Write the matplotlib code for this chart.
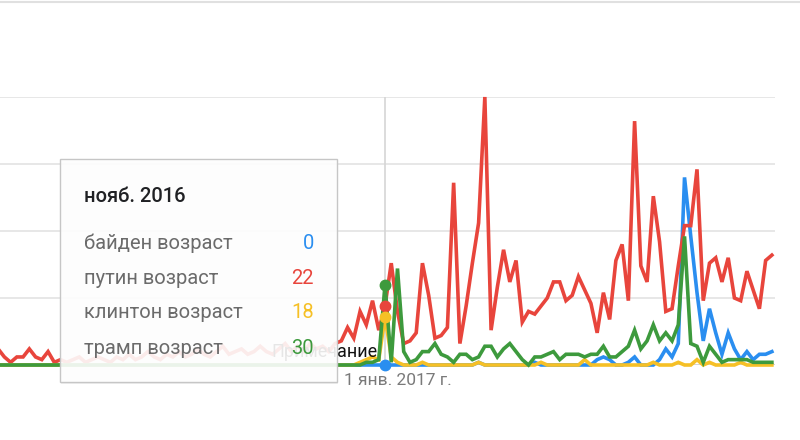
import matplotlib
matplotlib.use("Agg")
import matplotlib.pyplot as plt
from matplotlib.patches import FancyBboxPatch
from matplotlib.lines import Line2D
import numpy as np

plt.rcParams['font.family'] = ['Roboto', 'DejaVu Sans']

# months relative to nov 2016 (0 = нояб. 2016)
months = list(range(-62, 63))

# путин возраст
putin = [6, 3, 1, 3, 3, 6, 3, 2, 5, 1,
         2, 1, 2, 3, 1, 2, 3, 2, 1, 3, 2, 4, 2, 3, 5, 3, 2, 4, 3, 5, 3, 4,
         6, 4, 3, 5, 7, 4, 5, 6, 4, 5, 7, 5, 4, 6, 8, 5, 7, 5, 8, 6, 7, 5,
         8, 9, 14, 10, 20, 15, 24, 13,
         22, 38, 20, 8, 9, 12, 38, 26, 10, 11, 14, 68, 8, 22, 38, 53, 100,
         13, 29, 43, 31, 39, 16, 20, 19, 22, 25, 31, 31, 24, 26, 33, 28,
         23, 12, 27, 17, 39, 45, 24, 91, 37, 31, 63, 46, 20, 21, 37, 52,
         52, 73, 24, 38, 40, 31, 40, 25, 24, 35, 28, 21, 39, 41]

# трамп возраст
trump = [0] * 59 + [1, 1, 2] + \
        [30, 1, 36, 5, 1, 2, 5, 5, 8, 4, 3, 1, 4, 4, 2, 3, 7, 7, 3, 6,
         8, 5, 2, 0, 3, 3, 4, 5, 2, 4, 4, 4, 3, 4, 4, 7, 3, 3, 5, 7, 13,
         6, 9, 15, 9, 12, 9, 15, 48, 8, 7, 1, 7, 4, 1, 2, 2, 2, 2, 1, 1,
         1, 1]

# клинтон возраст
clinton = [0] * 58 + [1, 2, 3, 2] + \
          [18, 3, 1, 0, 0, 0, 1, 0, 0, 0, 0, 0, 0, 0, 0, 1, 0, 0, 0, 0,
           0, 0, 0, 0, 0, 1, 0, 0, 0, 0, 0, 0, 2, 0, 0, 0, 0, 0, 0, 0, 0,
           0, 0, 1, 0, 0, 0, 1, 0, 0, 2, 0, 1, 0, 0, 0, 0, 1, 0, 0, 0, 0,
           0]

# байден возраст
biden = [0] * 62 + \
        [0, 0, 0, 0, 0, 0, 0, 0, 0, 0, 0, 0, 0, 0, 0, 1, 0, 0, 0, 0,
         0, 0, 0, 0, 1, 0, 0, 0, 0, 0, 0, 0, 0, 0, 2, 3, 2, 0, 0, 1, 3,
         0, 0, 0, 2, 6, 3, 8, 70, 48, 27, 9, 21, 12, 4, 12, 6, 2, 5, 2, 4,
         4, 5]

names = ['байден возраст', 'путин возраст', 'клинтон возраст', 'трамп возраст']
colors = ['#2a8ef0', '#e8453c', '#f6c026', '#3d9a3d']
hover = 0
tick_pos = [2]
tick_labels = ['1 янв. 2017 г.']

W, H = 800, 440
fig = plt.figure(figsize=(8, 4.4), dpi=100)
ax = fig.add_axes([0, 75 / H, 775 / W, 268 / H])
ax.set_xlim(-61.7, 62.5)
ax.set_ylim(0, 100)

for y in [25, 50, 75, 100]:
    ax.axhline(y, color='#e3e3e3', lw=1.2, zorder=0)
ax.axhline(0, color='#cccccc', lw=1.2, zorder=0)
ax.axvline(hover, color='#d5d5d5', lw=1.2, zorder=0)

series = [biden, putin, clinton, trump]
for s, c in zip(series, colors):
    ax.plot(months, s, color=c, lw=2.6, clip_on=False, solid_joinstyle='miter')
for s, c in zip(series, colors):
    ax.plot([hover], [s[months.index(hover)]], 'o', color=c, ms=7.5,
            clip_on=False, zorder=5)

for sp in ax.spines.values():
    sp.set_visible(False)
ax.set_yticks([])
ax.set_xticks(tick_pos)
ax.set_xticklabels(tick_labels, fontsize=12.5, color='#7a7a7a')
ax.tick_params(axis='x', length=0, pad=6)

# thin line at the very top
fig.add_artist(Line2D([0, 1], [1 - 2 / H] * 2, transform=fig.transFigure,
                      color='#e0e0e0', lw=1.5))

fig.text(271 / W, 1 - 352 / H, 'Примечание', fontsize=13, color='#111111',
         va='center', zorder=2)

# tooltip
shadow = FancyBboxPatch((61 / W, 1 - 384 / H), 277 / W, 223 / H,
                        boxstyle='square,pad=0', transform=fig.transFigure,
                        fc=(0, 0, 0, 0.06), ec='none', zorder=4)
fig.add_artist(shadow)
box = FancyBboxPatch((60 / W, 1 - 382 / H), 277 / W, 223 / H,
                     boxstyle='square,pad=0', transform=fig.transFigure,
                     fc=(1, 1, 1, 0.9), ec='#c6c6c6', lw=1, zorder=5)
fig.add_artist(box)

fig.text(84 / W, 1 - 196 / H, 'нояб. 2016', fontsize=14.5, color='#202124',
         va='center', fontweight='medium', zorder=6)
row_y = [243, 278, 313, 348]
for name, s, c, yy in zip(names, series, colors, row_y):
    fig.text(84 / W, 1 - yy / H, name, fontsize=14.5, color='#6b6b6b',
             va='center', zorder=6)
    fig.text(314 / W, 1 - yy / H, str(s[months.index(hover)]), fontsize=14.5,
             color=c, va='center', ha='right', zorder=6)

fig.savefig('out.png', dpi=100)
